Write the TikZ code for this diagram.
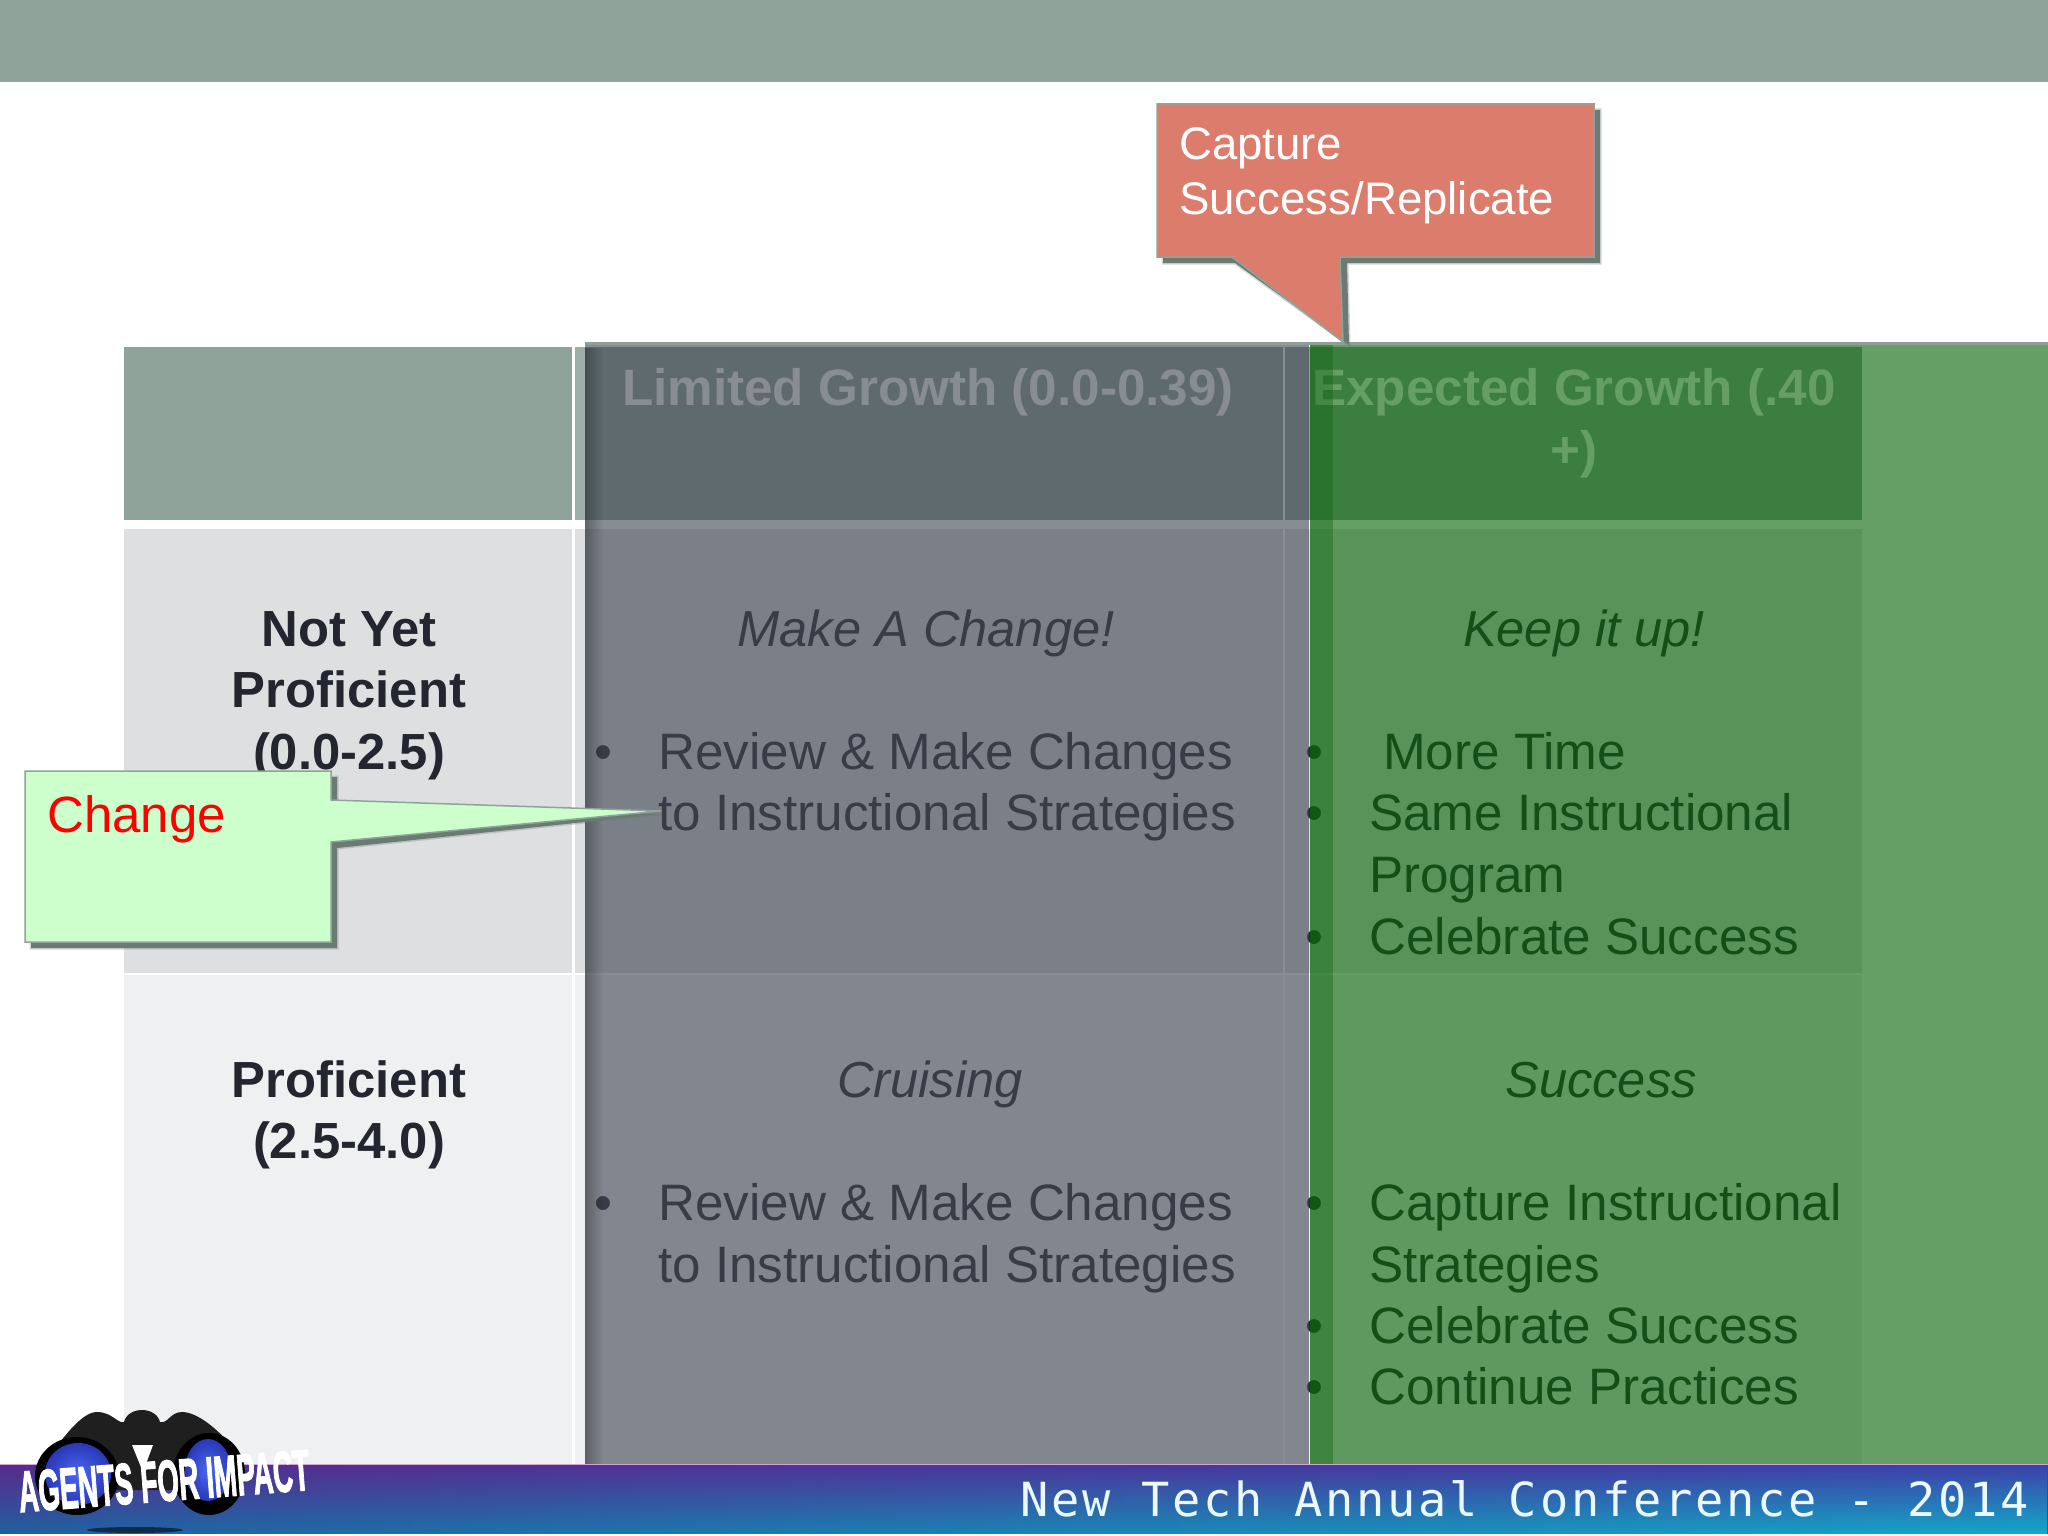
\documentclass[tikz,border=0pt]{standalone}
\usepackage{fontspec}
\usepackage{graphicx}
\usepackage{xcolor}
\usetikzlibrary{fadings}
\setmainfont{Liberation Sans}
\newfontfamily\footfont[LetterSpace=5.9]{DejaVu Sans Mono}
\newfontfamily\logofont[FakeBold=2.5]{Liberation Sans Bold}
\definecolor{sage}{HTML}{8FA39A}
\definecolor{rowone}{HTML}{DDDFE1}
\definecolor{rowtwo}{HTML}{EFF0F2}
\definecolor{inktext}{HTML}{23262E}
\definecolor{greyveil}{HTML}{434955}
\definecolor{greenveil}{HTML}{0C670C}
\definecolor{salmon}{HTML}{DC7C6C}
\definecolor{mint}{HTML}{CCFFCC}
\definecolor{toppurple}{HTML}{5A2A8C}
\definecolor{midpurple}{HTML}{5A2E92}
\definecolor{topblue}{HTML}{3D3FAA}
\definecolor{lowblue}{HTML}{2060A0}
\definecolor{midblue}{HTML}{1A85B8}
\definecolor{lowteal}{HTML}{14A8C8}
\definecolor{lensglow}{HTML}{4A68F0}
\definecolor{lensedge}{HTML}{2A38B8}
\tikzfading[name=fadedown, top color=transparent!100, bottom color=transparent!0]
\tikzfading[name=fadeedge, left color=transparent!72, right color=transparent!100]
\tikzset{
  cellbody/.style={inner sep=0pt, anchor=base, font=\fontsize{51.2}{61}\selectfont, text=inktext},
  colhead/.style={cellbody, font=\fontsize{51.2}{61}\selectfont\bfseries, text=white},
  rowhead/.style={cellbody, font=\fontsize{50.8}{61}\selectfont\bfseries},
  mood/.style={cellbody, font=\fontsize{50.6}{61}\selectfont\itshape},
  item/.style={cellbody, anchor=base west},
  dot/.style={cellbody},
  greyband/.style={fill=greyveil, fill opacity=.63},
  greenband/.style={fill=greenveil, fill opacity=.63},
  calloutshadow/.style={fill=black!25!sage, draw=black!25!sage, draw opacity=.3, line width=3pt},
}
\begin{document}
\begin{tikzpicture}[x=1pt,y=-1pt]
\useasboundingbox (0,0) rectangle (2048,1536);
\fill[white] (0,0) rectangle (2048,1536);
%% top band
\fill[sage] (0,0) rectangle (2048,82);
%% table cells
\fill[sage] (124,347) rectangle (572,520);
\fill[sage!88!white] (575,347) rectangle (1283,520);
\fill[sage] (585,347) rectangle (1283,520);
\fill[sage] (1285,347) rectangle (1862,520);
\fill[rowone] (124,529) rectangle (572,973);
\fill[rowone] (575,529) rectangle (1283,973);
\fill[rowone] (1285,529) rectangle (1862,973);
\fill[rowtwo] (124,975) rectangle (572,1464);
\fill[rowtwo] (575,975) rectangle (1283,1464);
\fill[rowtwo] (1285,975) rectangle (1862,1464);
%% column heads
\node[colhead] (limited) at (928,405) {Limited Growth (0.0-0.39)};
\node[colhead] (expected) at (1574,405) {Expected Growth (.40};
\node[colhead] (expectedb) at (1574,467) {+)};
%% row heads
\node[rowhead] (notyet) at (349,646) {Not Yet};
\node[rowhead] (notyetb) at (349,707) {Proficient};
\node[rowhead] (notyetc) at (349,769) {(0.0-2.5)};
\node[rowhead] (prof) at (349,1097) {Proficient};
\node[rowhead] (profb) at (349,1158) {(2.5-4.0)};
%% limited growth cells
\node[mood] (makechange) at (926,646) {Make A Change!};
\node[dot] (dota) at (603,769) {•};
\node[item] (reviewa) at (658,769) {Review \& Make Changes};
\node[item] (reviewb) at (658,830) {to Instructional Strategies};
\node[mood] (cruising) at (930,1097) {Cruising};
\node[dot] (dotb) at (603,1220) {•};
\node[item] (reviewc) at (658,1220) {Review \& Make Changes};
\node[item] (reviewd) at (658,1282) {to Instructional Strategies};
%% expected growth cells
\node[mood] (keepup) at (1584,646) {Keep it up!};
\node[dot] (dotc) at (1314,769) {•};
\node[item] (moretime) at (1383,769) {More Time};
\node[dot] (dotd) at (1314,830) {•};
\node[item] (same) at (1369,830) {Same Instructional};
\node[item] (program) at (1369,892) {Program};
\node[dot] (dote) at (1314,954) {•};
\node[item] (celebratea) at (1369,954) {Celebrate Success};
\node[mood] (success) at (1601,1097) {Success};
\node[dot] (dotf) at (1314,1220) {•};
\node[item] (capture) at (1369,1220) {Capture Instructional};
\node[item] (strategies) at (1369,1282) {Strategies};
\node[dot] (dotg) at (1314,1343) {•};
\node[item] (celebrateb) at (1369,1343) {Celebrate Success};
\node[dot] (doth) at (1314,1404) {•};
\node[item] (continue) at (1369,1404) {Continue Practices};
%% translucent bands
\fill[greyband] (585,345) rectangle (1309,1464);
\fill[black, path fading=fadeedge] (585,345) rectangle (603,1464);
\fill[greenband] (1310,345) rectangle (2048,1464);
\fill[greenveil, fill opacity=.38] (1310,345) rectangle (1333,1464);
\fill[sage!90!gray] (585,342) rectangle (2048,345);
%% salmon callout
\fill[calloutshadow] (1163,110) -- (1600,110) -- (1600,263) -- (1347,263) -- (1349,345)
  -- (1235,263) -- (1163,263) -- cycle;
\draw[fill=salmon, draw=sage, line width=1.5pt] (1157,104) -- (1594,104) -- (1594,257) -- (1340,257)
  -- (1343,342) -- (1232,257) -- (1157,257) -- cycle;
\node[anchor=base west, inner sep=0pt, text=white, font=\fontsize{45.6}{54}\selectfont] (capturea) at (1179,160) {Capture};
\node[anchor=base west, inner sep=0pt, text=white, font=\fontsize{45.6}{54}\selectfont] (captureb) at (1179,214) {Success/Replicate};
%% mint callout
\fill[calloutshadow] (31,777) -- (337,777) -- (337,805) -- (661,814) -- (337,848) -- (337,948)
  -- (31,948) -- cycle;
\draw[fill=mint, draw=sage, line width=1.5pt] (25,771) -- (331,771) -- (331,800) -- (661,811)
  -- (331,842) -- (331,942) -- (25,942) -- cycle;
\node[anchor=base west, inner sep=0pt, text=red, font=\fontsize{51}{61}\selectfont] (change) at (47,832) {Change};
%% footer
\shade[left color=toppurple, middle color=midpurple, right color=topblue] (0,1464) rectangle (2048,1533);
\shade[left color=lowblue, middle color=midblue, right color=lowteal, path fading=fadedown] (0,1464) rectangle (2048,1533);
\draw[violet!35!white, line width=1pt] (0,1464) -- (2048,1464);
\node[anchor=base west, inner sep=0pt, text=cyan!8!white, font=\footfont\fontsize{47}{56}\selectfont] (conference) at (1020,1516) {New Tech Annual Conference - 2014};
%% logo
\fill[black, opacity=.55] (135,1530) ellipse (48 and 3);
\fill[black!88] (52,1452) .. controls (65,1436) and (82,1412) .. (97,1412)
  .. controls (112,1412) and (118,1424) .. (124,1422) .. controls (128,1406) and (156,1406) .. (160,1422)
  .. controls (168,1424) and (170,1412) .. (182,1412) .. controls (200,1412) and (225,1436) .. (236,1452)
  -- (200,1490) -- (90,1490) -- cycle;
\fill[black] (77,1476) ellipse (42 and 39);
\fill[black] (209,1474) ellipse (36 and 41);
\shade[inner color=lensglow, outer color=lensedge] (78,1474) ellipse (33 and 31);
\shade[inner color=lensglow, outer color=lensedge] (208,1470) ellipse (23 and 31);
\fill[white] (132,1445) -- (153,1445) -- (143,1472) -- cycle;
\node[inner sep=0pt, rotate=4.4, text=white, font=\logofont\fontsize{58}{58}\selectfont] (agents) at (164,1481) {\scalebox{.475}[1]{AGENTS FOR IMPACT}};
\end{tikzpicture}
\end{document}
